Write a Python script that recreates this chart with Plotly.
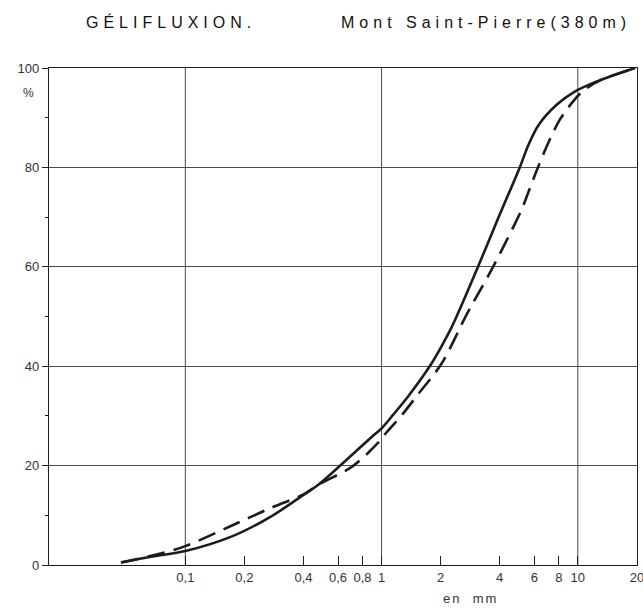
import math
import plotly.graph_objects as go

# ---- data ----
solid_x = [0.047, 0.068, 0.1, 0.174, 0.277, 0.4, 0.478, 0.708, 0.893, 1.0, 1.15, 1.37, 1.80, 2.24, 2.38, 3.1, 3.95, 5.06, 5.6, 6.3, 7.8, 9.6, 12.5, 19.6]
solid_y = [0.5, 1.7, 2.8, 5.8, 9.9, 14.1, 16.2, 22.2, 25.8, 27.5, 30.3, 34.0, 40.6, 47.3, 49.5, 60.0, 70.0, 80.0, 84.5, 88.5, 92.6, 95.2, 97.3, 100.0]

dashed_x = [0.047, 0.068, 0.1, 0.174, 0.277, 0.4, 0.478, 0.708, 0.95, 1.04, 1.27, 1.51, 2.02, 2.46, 2.68, 3.7, 5.16, 5.45, 6.26, 7.18, 8.07, 9.6, 10.8, 13.0, 19.6]
dashed_y = [0.5, 1.9, 3.8, 8.0, 11.6, 14.2, 16.2, 19.8, 24.4, 26.3, 30.2, 34.0, 40.5, 47.0, 50.0, 60.0, 71.4, 73.8, 80.0, 85.5, 89.5, 93.6, 95.6, 97.5, 100.0]

x_tickvals = [0.1, 0.2, 0.4, 0.6, 0.8, 1, 2, 4, 6, 8, 10, 20]
x_ticktext = ["0,1", "0,2", "0,4", "0,6", "0,8", "1", "2", "4", "6", "8", "10", "20"]
x_gridvals = [0.1, 1, 10]
y_tickvals = [0, 20, 40, 60, 80, 100]
y_ticktext = ["0", "20", "40", "60", "80", "100"]

title_left = "GÉLIFLUXION."
title_right = "Mont Saint-Pierre(380m)"
unit_y = "%"
unit_x = "en  mm"

INK = "#1c1c1c"
GRID = "#4a4a4a"
FONT = "Liberation Sans"


def spaced(txt, px):
    return '<span style="letter-spacing:%dpx">%s</span>' % (px, txt)


fig = go.Figure()
fig.add_trace(go.Scatter(
    x=dashed_x, y=dashed_y, mode="lines",
    line=dict(color=INK, width=2.6, dash="18px,9px", shape="spline", smoothing=0.9),
    hoverinfo="skip", showlegend=False))
fig.add_trace(go.Scatter(
    x=solid_x, y=solid_y, mode="lines",
    line=dict(color=INK, width=2.6, shape="spline", smoothing=0.9),
    hoverinfo="skip", showlegend=False))

for gv in x_gridvals:
    fig.add_shape(type="line", xref="x", yref="y", x0=gv, x1=gv, y0=0, y1=100,
                  line=dict(color=GRID, width=1), layer="below")

fig.update_layout(
    width=643, height=609,
    margin=dict(l=49, r=6, t=68, b=44),
    paper_bgcolor="white", plot_bgcolor="white",
    showlegend=False,
    xaxis=dict(
        type="log", range=[math.log10(0.0202), math.log10(20) + 0.0005],
        tickvals=x_tickvals, ticktext=x_ticktext,
        ticks="inside", ticklen=9, tickwidth=1, tickcolor=INK,
        ticklabeloverflow="allow",
        showgrid=False, zeroline=False, automargin=False,
        showline=True, linecolor=INK, linewidth=1.3, mirror=True,
        tickfont=dict(family=FONT, size=13, color="#333333"),
    ),
    yaxis=dict(
        range=[0, 100], tickvals=y_tickvals, ticktext=y_ticktext,
        ticks="outside", ticklen=6, tickwidth=1, tickcolor=INK,
        minor=dict(dtick=10, ticks="outside", ticklen=3, tickcolor=INK, showgrid=False),
        showgrid=True, gridcolor=GRID, gridwidth=1, zeroline=False, automargin=False,
        showline=True, linecolor=INK, linewidth=1.3, mirror=True,
        tickfont=dict(family=FONT, size=13, color="#333333"),
    ),
    annotations=[
        dict(text=spaced(title_left, 5), xref="paper", yref="paper", x=(171 - 49) / 588, y=1 + (68 - 22) / 497,
             showarrow=False, xanchor="center", yanchor="middle",
             font=dict(family=FONT, size=16, color="#111111")),
        dict(text=spaced(title_right, 5), xref="paper", yref="paper", x=(486 - 49) / 588, y=1 + (68 - 22) / 497,
             showarrow=False, xanchor="center", yanchor="middle",
             font=dict(family=FONT, size=16, color="#111111")),
        dict(text=unit_y, xref="paper", yref="paper", x=(28 - 49) / 588, y=(565 - 93) / 497,
             showarrow=False, xanchor="center", yanchor="middle",
             font=dict(family=FONT, size=12, color="#333333")),
        dict(text=spaced(unit_x, 2), xref="paper", yref="paper", x=(470 - 49) / 588, y=-(598 - 565) / 497,
             showarrow=False, xanchor="center", yanchor="middle",
             font=dict(family=FONT, size=13, color="#333333")),
    ],
)

fig.write_html("out.html", config={"displayModeBar": False},
               post_script="document.body.style.margin='0px';")
